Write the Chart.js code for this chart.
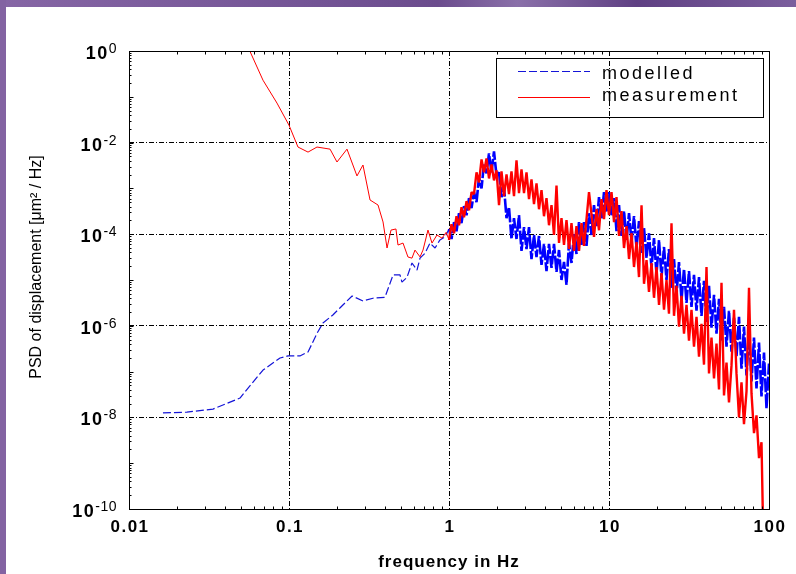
<!DOCTYPE html>
<html lang="en">
<head>
    <meta charset="UTF-8">
    <title>PSD of displacement</title>
    <script src="https://cdn.jsdelivr.net/npm/chart.js@4.4.1/dist/chart.umd.min.js"></script>
    <style>
        html, body { margin: 0; padding: 0; background: #fff; }
        #wrap { width: 796px; height: 574px; }
    </style>
</head>
<body>
<div id="wrap"><canvas id="psdChart" width="796" height="574"></canvas></div>

<script>
    // frequency grid (Hz) of the dense part of both spectra
    const denseFreq = [
        1.000, 1.037, 1.075, 1.114, 1.155, 1.197, 1.241, 1.287, 1.334, 1.383, 1.433, 1.486, 1.540, 1.597, 1.655, 1.716,
        1.778, 1.843, 1.911, 1.981, 2.054, 2.129, 2.207, 2.288, 2.371, 2.458, 2.548, 2.642, 2.738, 2.839, 2.943, 3.051,
        3.162, 3.278, 3.398, 3.523, 3.652, 3.786, 3.924, 4.068, 4.217, 4.372, 4.532, 4.698, 4.870, 5.048, 5.233, 5.425,
        5.623, 5.829, 6.043, 6.264, 6.494, 6.732, 6.978, 7.234, 7.499, 7.774, 8.058, 8.354, 8.660, 8.977, 9.306, 9.647,
        10.00, 10.37, 10.75, 11.14, 11.55, 11.97, 12.41, 12.87, 13.34, 13.83, 14.33, 14.86, 15.40, 15.97, 16.55, 17.16,
        17.78, 18.43, 19.11, 19.81, 20.54, 21.29, 22.07, 22.88, 23.71, 24.58, 25.48, 26.42, 27.38, 28.39, 29.43, 30.51,
        31.62, 32.78, 33.98, 35.23, 36.52, 37.86, 39.24, 40.68, 42.17, 43.72, 45.32, 46.98, 48.70, 50.48, 52.33, 54.25,
        56.23, 58.29, 60.43, 62.64, 64.94, 67.32, 69.78, 72.34, 74.99, 77.74, 80.58, 83.54, 86.60, 89.77, 93.06, 96.47,
        100.0
    ];

    // modelled PSD [um^2/Hz]
    const modelLowFreq = [0.0163, 0.0230, 0.0335, 0.0494, 0.0596, 0.0688, 0.0879, 0.0986, 0.117, 0.1315,
        0.150, 0.163, 0.188, 0.208, 0.248, 0.290, 0.335, 0.398, 0.447, 0.494,
        0.508, 0.546, 0.587, 0.631, 0.659, 0.708, 0.761, 0.818, 0.878, 0.944];
    const modelLowPsd = [1.25e-8, 1.3e-8, 1.52e-8, 2.65e-8, 5.9e-8, 1.08e-7, 1.98e-7, 2.2e-7, 2.2e-7, 2.68e-7,
        6.96e-7, 1.15e-6, 1.72e-6, 2.45e-6, 4.47e-6, 3.48e-6, 4.0e-6, 4.2e-6, 1.29e-5, 1.29e-5,
        9.0e-6, 1.14e-5, 2.35e-5, 1.65e-5, 3.0e-5, 3.84e-5, 6.4e-5, 5.0e-5, 7.5e-5, 8.7e-5];
    const modelDensePsd = [
        1.29e-4, 7.86e-5, 1.83e-4, 1.16e-4, 2.87e-4, 1.74e-4, 4.09e-4, 2.60e-4, 6.12e-4, 3.70e-4, 8.26e-4, 5.0e-4, 1.74e-3, 1.0e-3, 3.51e-3, 2.13e-3,
        5.82e-3, 2.24e-3, 6.43e-3, 1.92e-3, 2.24e-3, 6.43e-4, 1.05e-3, 2.24e-4, 3.89e-4, 7.86e-5, 2.24e-4, 7.86e-5, 2.60e-4, 4.30e-5, 1.42e-4, 4.75e-5,
        1.42e-4, 2.87e-5, 9.6e-5, 3.18e-5, 9.14e-5, 2.13e-5, 6.12e-5, 1.57e-5, 6.12e-5, 1.83e-5, 6.12e-5, 1.50e-5, 4.52e-5, 1.0e-5, 2.47e-5, 7.86e-6,
        6.43e-5, 2.35e-5, 1.0e-4, 3.70e-5, 1.83e-4, 5.82e-5, 1.83e-4, 5.53e-5, 2.87e-4, 9.6e-5, 4.30e-4, 1.50e-4, 6.43e-4, 2.13e-4, 8.26e-4, 3.02e-4,
        8.26e-4, 2.60e-4, 6.12e-4, 1.16e-4, 4.30e-4, 9.14e-5, 3.18e-4, 7.48e-5, 2.87e-4, 6.76e-5, 2.47e-4, 5.0e-5, 1.92e-4, 3.89e-5, 1.35e-4, 3.02e-5,
        1.05e-4, 1.83e-5, 8.26e-5, 1.35e-5, 7.48e-5, 1.16e-5, 5.26e-5, 1.0e-5, 4.75e-5, 6.76e-6, 2.87e-5, 4.75e-6, 2.47e-5, 3.70e-6, 1.74e-5, 3.18e-6,
        1.57e-5, 2.60e-6, 1.29e-5, 2.13e-6, 1.16e-5, 1.65e-6, 9.6e-6, 1.22e-6, 7.48e-6, 9.14e-7, 4.75e-6, 6.76e-7, 3.89e-6, 4.75e-7, 2.60e-6, 3.51e-7,
        2.13e-6, 2.73e-7, 1.50e-6, 2.13e-7, 1.57e-6, 1.16e-7, 9.6e-7, 8.26e-8, 8.26e-7, 6.12e-8, 5.53e-7, 4.30e-8, 4.30e-7, 2.87e-8, 2.60e-7, 1.57e-8,
        1.50e-7
    ];

    // measured PSD [um^2/Hz]
    const measLowFreq = [0.055, 0.0688, 0.0841, 0.1, 0.1138, 0.1315, 0.1496, 0.1805, 0.1995, 0.2304,
        0.266, 0.290, 0.321, 0.360, 0.387, 0.410, 0.434, 0.466, 0.480, 0.516,
        0.554, 0.587, 0.613, 0.659, 0.688, 0.739, 0.783, 0.841, 0.904, 0.96];
    const measLowPsd = [1.3, 0.23, 0.073, 0.024, 0.008, 0.0062, 0.008, 0.0072, 0.00377, 0.0072,
        0.00187, 0.00324, 5.58e-4, 4.34e-4, 1.85e-4, 5.0e-5, 1.23e-4, 1.3e-4, 5.8e-5, 6.4e-5,
        3.18e-5, 3.0e-5, 4.5e-5, 3.2e-5, 4.5e-5, 1.23e-4, 6.4e-5, 9.6e-5, 8.2e-5, 1.1e-4];
    const measDensePsd = [
        7.48e-5, 1.65e-4, 1.05e-4, 2.47e-4, 1.57e-4, 3.89e-4, 2.35e-4, 5.26e-4, 3.34e-4, 8.26e-4, 7.48e-4, 2.24e-3, 1.35e-3, 4.30e-3, 2.24e-3, 4.52e-3,
        1.65e-3, 3.34e-3, 1.50e-3, 2.47e-3, 4.30e-4, 2.35e-3, 6.76e-4, 2.02e-3, 7.48e-4, 2.35e-3, 6.76e-4, 4.09e-3, 7.86e-4, 2.60e-3, 7.86e-4, 2.24e-3,
        5.82e-4, 1.57e-3, 4.52e-4, 1.29e-3, 3.51e-4, 9.14e-4, 2.47e-4, 6.12e-4, 1.57e-4, 4.30e-4, 9.6e-5, 1.16e-3, 6.43e-5, 2.24e-4, 5.82e-5, 2.02e-4,
        4.75e-5, 1.74e-4, 4.30e-5, 1.50e-4, 4.30e-5, 1.74e-4, 5.53e-5, 2.13e-4, 8.26e-4, 2.73e-4, 8.69e-5, 3.51e-4, 1.22e-4, 5.82e-4, 2.13e-4, 9.14e-4,
        2.60e-4, 8.26e-4, 1.83e-4, 6.43e-4, 9.14e-5, 3.18e-4, 5.0e-5, 1.50e-4, 2.87e-5, 1.05e-4, 1.92e-5, 6.76e-5, 1.16e-5, 4.30e-4, 8.26e-6, 2.73e-5,
        5.53e-6, 2.35e-5, 4.09e-6, 1.92e-5, 2.87e-6, 1.42e-5, 2.24e-6, 1.0e-5, 1.83e-6, 1.74e-4, 1.65e-6, 7.48e-6, 9.6e-7, 4.52e-6, 6.76e-7, 2.87e-6,
        4.75e-7, 2.24e-6, 3.51e-7, 1.57e-6, 2.13e-7, 1.11e-6, 1.42e-7, 1.92e-5, 9.14e-8, 5.53e-7, 7.11e-8, 4.09e-7, 4.09e-8, 8.69e-6, 3.02e-8, 1.57e-7,
        2.13e-8, 1.35e-7, 2.24e-6, 9.14e-8, 1.0e-8, 5.82e-8, 7.11e-9, 3.70e-8, 6.76e-6, 3.34e-8, 4.52e-9, 1.11e-8, 1.29e-9, 2.87e-9
    ];
    const measEndFreq = [91.5];
    const measEndPsd = [8e-11];

    const xTickValues = [0.01, 0.1, 1, 10, 100];
    const xTickLabels = ['0.01', '0.1', '1', '10', '100'];
    const yTickValues = [1, 1e-2, 1e-4, 1e-6, 1e-8, 1e-10];
    const yTickExponents = ['0', '-2', '-4', '-6', '-8', '-10'];

    const xTitle = 'frequency in Hz';
    const yTitle = 'PSD of displacement [\u03bcm\u00b2 / Hz]';

    const FONT = "'Liberation Sans', Arial, sans-serif";

    function toPoints(freqs, psd) {
        return psd.map((v, i) => ({ x: freqs[i], y: v }));
    }

    const modelData = toPoints(modelLowFreq, modelLowPsd).concat(toPoints(denseFreq, modelDensePsd));
    const measData = toPoints(measLowFreq, measLowPsd).concat(
        toPoints(denseFreq, measDensePsd), toPoints(measEndFreq, measEndPsd));

    // the part above 1 Hz is a dense noisy band, drawn with a heavier stroke
    const inBand = seg => seg.p0.parsed.x >= 0.99;

    function spacing(c, px) {
        if ('letterSpacing' in c) c.letterSpacing = px + 'px';
    }

    // background, frame, minor ticks, labels and legend
    const decorations = {
        id: 'decorations',
        beforeDraw(chart) {
            const c = chart.ctx;
            c.save();
            c.fillStyle = '#fff';
            c.fillRect(0, 0, chart.width, chart.height);
            const g = c.createLinearGradient(0, 0, chart.width, 0);
            g.addColorStop(0, '#8666a5');
            g.addColorStop(0.4, '#735495');
            g.addColorStop(0.55, '#6b4c8d');
            g.addColorStop(0.65, '#8a70a9');
            g.addColorStop(0.8, '#5f4083');
            g.addColorStop(1, '#7b5e9d');
            c.fillStyle = g;
            c.fillRect(0, 0, chart.width, 7);
            c.fillStyle = '#8363a2';
            c.fillRect(0, 0, 6, chart.height);
            c.restore();
        },
        afterDatasetsDraw(chart) {
            const c = chart.ctx;
            const { left, right, top, bottom } = chart.chartArea;
            const xs = chart.scales.x, ys = chart.scales.y;
            const l = Math.round(left) + 0.5, r = Math.round(right) + 0.5;
            const t = Math.round(top) + 0.5, b = Math.round(bottom) + 0.5;
            c.save();
            c.strokeStyle = '#000';
            c.lineWidth = 1;
            c.setLineDash([]);
            c.strokeRect(l, t, r - l, b - t);
            c.beginPath();
            for (let d = -2; d < 2; d++) {
                for (let m = 2; m <= 9; m++) {
                    const px = Math.round(xs.getPixelForValue(m * Math.pow(10, d))) + 0.5;
                    c.moveTo(px, b); c.lineTo(px, b - 3);
                    c.moveTo(px, t); c.lineTo(px, t + 3);
                }
            }
            for (let d = -10; d < 0; d++) {
                for (let m = 1; m <= 9; m++) {
                    const py = Math.round(ys.getPixelForValue(m * Math.pow(10, d))) + 0.5;
                    const len = m === 1 ? 4 : 2;
                    c.moveTo(l, py); c.lineTo(l + len, py);
                }
            }
            c.stroke();
            c.restore();
        },
        afterDraw(chart) {
            const c = chart.ctx;
            const xs = chart.scales.x, ys = chart.scales.y;
            const { bottom } = chart.chartArea;
            c.save();
            c.fillStyle = '#000';

            // x tick labels
            c.font = 'bold 17px ' + FONT;
            spacing(c, 1.5);
            c.textAlign = 'center';
            c.textBaseline = 'alphabetic';
            xTickValues.forEach((v, i) => {
                c.fillText(xTickLabels[i], xs.getPixelForValue(v) + 1, bottom + 23);
            });

            // y tick labels: 10 with superscript exponent
            yTickValues.forEach((v, i) => {
                const py = ys.getPixelForValue(v);
                c.font = '14px ' + FONT;
                spacing(c, 0.5);
                const wSup = c.measureText(yTickExponents[i]).width;
                c.textAlign = 'left';
                c.fillText(yTickExponents[i], 117 - wSup, py + 2);
                c.font = 'bold 18px ' + FONT;
                spacing(c, 1.5);
                const wBase = c.measureText('10').width;
                c.fillText('10', 117 - wSup - wBase, py + 8);
            });

            // axis titles
            c.font = 'bold 17px ' + FONT;
            spacing(c, 1);
            c.textAlign = 'center';
            c.fillText(xTitle, (chart.chartArea.left + chart.chartArea.right) / 2, 567);
            c.save();
            c.translate(41, 267);
            c.rotate(-Math.PI / 2);
            c.font = '16px ' + FONT;
            spacing(c, 0);
            c.fillText(yTitle, 0, 0);
            c.restore();

            // legend box
            c.lineWidth = 1;
            c.strokeStyle = '#000';
            c.setLineDash([]);
            c.strokeRect(496.5, 58.5, 267, 59);
            const rows = [71, 97];
            const textRows = [79, 101];
            chart.data.datasets.forEach((ds, i) => {
                c.save();
                c.strokeStyle = ds.borderColor;
                c.lineWidth = ds.borderWidth;
                c.setLineDash(ds.borderDash || []);
                c.beginPath();
                c.moveTo(518, rows[i] + 0.5);
                c.lineTo(590, rows[i] + 0.5);
                c.stroke();
                c.restore();
                c.font = '18px ' + FONT;
                spacing(c, 2.5);
                c.textAlign = 'left';
                c.fillText(ds.label, 602, textRows[i]);
            });
            c.restore();
        }
    };

    const ctx = document.getElementById('psdChart').getContext('2d');
    new Chart(ctx, {
        type: 'line',
        data: {
            datasets: [
                {
                    label: 'modelled',
                    data: modelData,
                    borderColor: '#1414d8',
                    borderWidth: 1.2,
                    borderDash: [8, 3],
                    borderJoinStyle: 'bevel',
                    pointRadius: 0,
                    tension: 0,
                    fill: false,
                    order: 2,
                    segment: {
                        borderWidth: s => inBand(s) ? 2.6 : 1.2,
                        borderColor: s => inBand(s) ? '#0000ff' : '#1414d8',
                        borderDash: s => inBand(s) ? [14, 2] : [8, 3]
                    }
                },
                {
                    label: 'measurement',
                    data: measData,
                    borderColor: '#ff0000',
                    borderWidth: 1,
                    borderJoinStyle: 'bevel',
                    pointRadius: 0,
                    tension: 0,
                    fill: false,
                    order: 1,
                    segment: {
                        borderWidth: s => inBand(s) ? 2.4 : 1
                    }
                }
            ]
        },
        options: {
            responsive: false,
            animation: false,
            events: [],
            layout: { padding: { left: 129, top: 51, right: 27, bottom: 65 } },
            plugins: {
                legend: { display: false },
                tooltip: { enabled: false }
            },
            scales: {
                x: {
                    type: 'logarithmic',
                    min: 0.01,
                    max: 100,
                    afterBuildTicks: axis => { axis.ticks = xTickValues.map(v => ({ value: v })); },
                    ticks: { display: false },
                    grid: { color: '#000', lineWidth: 1, drawTicks: false },
                    border: { display: false, dash: [5, 2, 1, 2] }
                },
                y: {
                    type: 'logarithmic',
                    min: 1e-10,
                    max: 1,
                    afterBuildTicks: axis => { axis.ticks = yTickValues.map(v => ({ value: v })); },
                    ticks: { display: false },
                    grid: { color: '#000', lineWidth: 1, drawTicks: false },
                    border: { display: false, dash: [5, 2, 1, 2] }
                }
            }
        },
        plugins: [decorations]
    });
</script>
</body>
</html>
